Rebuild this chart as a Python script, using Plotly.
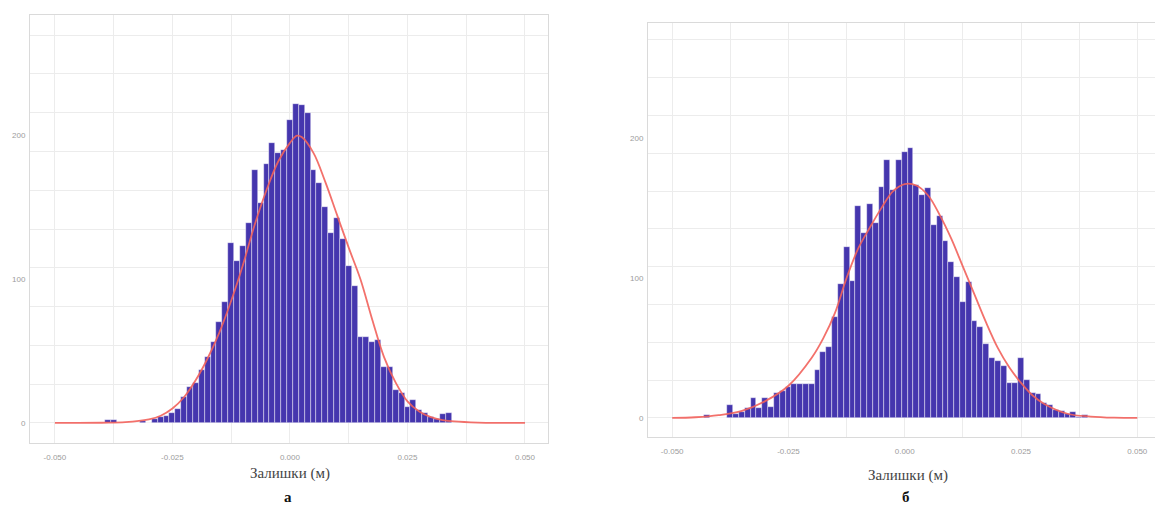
import plotly.graph_objects as go

# Histogram bins (shared width) and counts for both residual sets
bin_width = 0.00125

left_first_bin = -0.03875
left_counts = [2, 2, 0, 0, 0, 0, 1, 0, 3, 4, 5, 7, 10, 18, 25, 28, 37, 46, 56, 70,
               84, 125, 113, 123, 139, 176, 153, 180, 195, 188, 190, 211, 222, 221, 216,
               176, 167, 150, 132, 143, 128, 109, 95, 60, 60, 56, 58, 39, 39, 23, 21,
               11, 16, 9, 7, 4, 3, 6, 7]

right_first_bin = -0.0425
right_counts = [2, 0, 0, 0, 9, 3, 4, 7, 14, 7, 14, 8, 18, 19, 22, 24, 24, 24, 24, 34,
                47, 51, 72, 96, 122, 98, 151, 132, 153, 139, 165, 184, 163, 184, 190,
                193, 166, 159, 164, 138, 144, 126, 111, 101, 83, 97, 69, 65, 53, 43, 41,
                37, 25, 25, 43, 27, 18, 17, 11, 9, 6, 5, 3, 4, 1, 2]

# Fitted normal curves (count scale), sampled points
left_curve_x = [-0.050, -0.040, -0.035, -0.030, -0.0275, -0.025, -0.0225, -0.020,
                -0.0175, -0.015, -0.0125, -0.010, -0.0075, -0.005, -0.0025, 0.000,
                0.0015, 0.0025, 0.005, 0.0075, 0.010, 0.0125, 0.015, 0.0175, 0.020,
                0.0225, 0.025, 0.0275, 0.030, 0.0325, 0.035, 0.040, 0.045, 0.050]
left_curve_y = [0, 0.1, 0.5, 2.5, 5, 10, 18, 30, 45, 63, 85, 110, 138, 162, 182, 195,
                200, 199, 188, 168, 145, 122, 100, 72, 46, 28, 15, 8, 4, 2, 1, 0.2, 0, 0]

right_curve_x = [-0.050, -0.045, -0.040, -0.035, -0.030, -0.025, -0.020, -0.0175,
                 -0.015, -0.0125, -0.010, -0.0075, -0.005, -0.0025, 0.000, 0.0025,
                 0.005, 0.0075, 0.010, 0.0125, 0.015, 0.0175, 0.020, 0.0225, 0.025,
                 0.0275, 0.030, 0.035, 0.040, 0.045, 0.050]
right_curve_y = [0, 0.5, 2, 5, 12, 23, 43, 57, 75, 100, 121, 136, 150, 162, 167, 166,
                 159, 145, 128, 108, 88, 68, 50, 36, 25, 16, 10, 3, 1, 0.2, 0]

x_tick_vals = [-0.050, -0.025, 0.000, 0.025, 0.050]
x_tick_text = ["-0.050", "-0.025", "0.000", "0.025", "0.050"]
y_tick_vals = [0, 100, 200]
y_tick_text = ["0", "100", "200"]

x_title = "Залишки (м)"
panel_labels = ["а", "б"]

W, H = 1155, 509
BAR_FILL = "#4536ae"
CURVE = "#f2625c"


def centers(first, counts):
    return [first + i * bin_width for i in range(len(counts))]


fig = go.Figure()

for first, counts, cx, cy, ax in [
    (left_first_bin, left_counts, left_curve_x, left_curve_y, ""),
    (right_first_bin, right_counts, right_curve_x, right_curve_y, "2"),
]:
    fig.add_trace(go.Bar(
        x=centers(first, counts), y=counts, width=bin_width,
        marker=dict(color=BAR_FILL, line=dict(color="rgba(255,255,255,0.7)", width=0.6)),
        xaxis="x" + ax, yaxis="y" + ax, showlegend=False,
    ))
    fig.add_trace(go.Scatter(
        x=cx, y=cy, mode="lines", line=dict(color=CURVE, width=1.8, shape="spline"),
        opacity=0.9, xaxis="x" + ax, yaxis="y" + ax, showlegend=False,
    ))

grid = "#ececec"
border = "#dadada"
tick_font = dict(family="Liberation Sans, Arial, sans-serif", size=8, color="#9c9c9c")


def xaxis(domain, rng, anchor):
    return dict(
        domain=domain, range=rng, anchor=anchor,
        tickvals=x_tick_vals, ticktext=x_tick_text, tickfont=tick_font,
        showgrid=True, gridcolor=grid, gridwidth=1,
        minor=dict(dtick=0.0125, tick0=0, showgrid=True, gridcolor=grid, gridwidth=1),
        showline=True, linecolor=border, linewidth=1, mirror=True,
        zeroline=False, ticks="", ticklabelstandoff=6,
    )


def yaxis(domain, rng, anchor):
    return dict(
        domain=domain, range=rng, anchor=anchor,
        tickvals=y_tick_vals, ticktext=y_tick_text, tickfont=tick_font,
        showgrid=False,
        minor=dict(dtick=27, tick0=0, showgrid=True, gridcolor=grid, gridwidth=1),
        showline=True, linecolor=border, linewidth=1, mirror=True,
        zeroline=False, ticks="", ticklabelstandoff=2,
    )


fig.update_layout(
    width=W, height=H, margin=dict(l=0, r=0, t=0, b=0),
    paper_bgcolor="white", plot_bgcolor="white", bargap=0,
    xaxis=xaxis([30 / W, 548 / W], [-0.0553, 0.0549], "y"),
    yaxis=yaxis([(H - 443) / H, (H - 15) / H], [-14, 284], "x"),
    xaxis2=xaxis([648 / W, 1.0], [-0.0552, 0.0538], "y2"),
    yaxis2=yaxis([(H - 437) / H, (H - 23) / H], [-13.6, 282], "x2"),
)

serif = "Liberation Serif, Times New Roman, serif"
for cx_px, ty, ly, label in [(290, 473, 497, panel_labels[0]), (908, 475, 497, panel_labels[1])]:
    fig.add_annotation(x=cx_px / W, y=1 - ty / H, xref="paper", yref="paper",
                       text=x_title, showarrow=False, xanchor="center", yanchor="middle",
                       font=dict(family=serif, size=15, color="#444444"))
    fig.add_annotation(x=cx_px / W - 2 / W, y=1 - ly / H, xref="paper", yref="paper",
                       text="<b>" + label + "</b>", showarrow=False, xanchor="center",
                       yanchor="middle", font=dict(family=serif, size=15, color="#111111"))

fig.write_html("out.html")
